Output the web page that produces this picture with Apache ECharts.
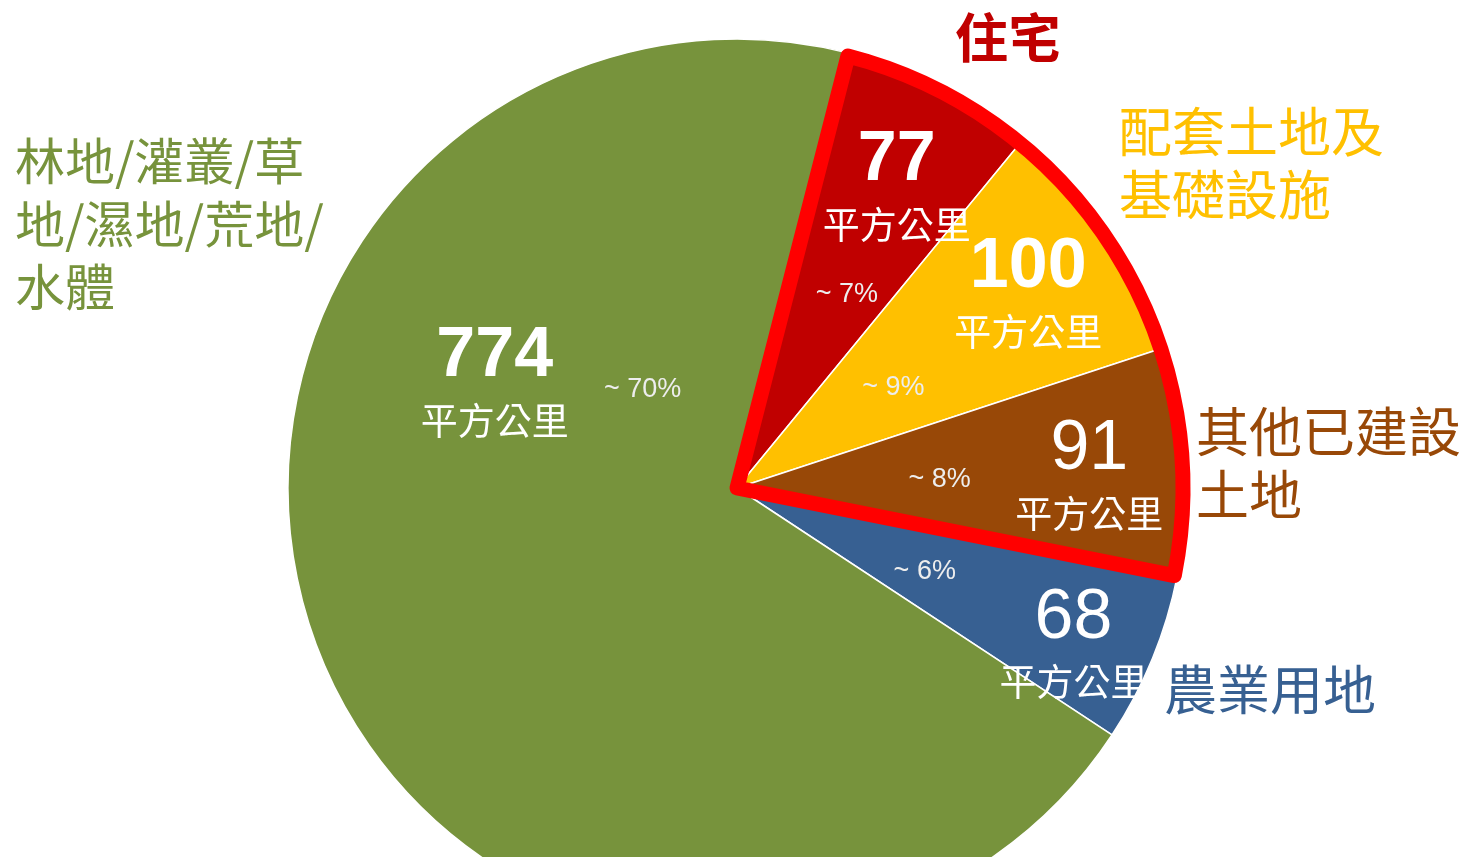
<!DOCTYPE html>
<html>
<head>
<meta charset="utf-8">
<script src="https://cdn.jsdelivr.net/npm/echarts@6/dist/echarts.min.js"></script>
<style>
  html, body { margin: 0; padding: 0; background: #fff; }
  #main { width: 1463px; height: 857px; }
</style>
</head>
<body>
<div id="main"></div>
<script>
// 土地用途 (平方公里)
const categories = ['住宅', '配套土地及\n基礎設施', '其他已建設\n土地', '農業用地', '林地/灌叢/草\n地/濕地/荒地/\n水體']
const areas = [77, 100, 91, 68, 774]
const unitText = '平方公里'
const highlightCount = 3 // 已建設用地 (紅框)

const sliceColors = ['#C00000', '#FFC000', '#984807', '#376092', '#77933C']
const nameColors = ['#C00000', '#FFC000', '#984807', '#376092', '#77933C']

const CJK = '"Noto Sans CJK TC", "Noto Sans CJK SC", sans-serif'
const NARROW = '"Liberation Sans Narrow", "Arial Narrow", "Liberation Sans", sans-serif'
const center = [737, 488]
const R = 449
const startAngle = 75.6

const chart = echarts.init(document.getElementById('main'))

const pieData = categories.map((name, i) => ({ name: name, value: areas[i] }))

const builtTotal = areas.slice(0, highlightCount).reduce((a, b) => a + b, 0)
const restTotal = areas.slice(highlightCount).reduce((a, b) => a + b, 0)

const transparentItem = { color: 'rgba(0,0,0,0)', borderWidth: 0 }

const option = {
  animation: false,
  series: [
    // 主圓餅
    {
      type: 'pie',
      center: center,
      radius: R,
      startAngle: startAngle,
      silent: true,
      data: pieData.map((d, i) => ({
        name: d.name,
        value: d.value,
        itemStyle: { color: sliceColors[i] }
      })),
      itemStyle: { borderColor: '#fff', borderWidth: 1.5 },
      label: { show: false },
      labelLine: { show: false }
    },
    // 紅框
    {
      type: 'pie',
      center: center,
      radius: R - 3,
      startAngle: startAngle,
      silent: true,
      z: 3,
      data: [
        {
          value: builtTotal,
          itemStyle: {
            color: 'rgba(0,0,0,0)',
            borderColor: '#FF0000',
            borderWidth: 15,
            borderJoin: 'round'
          }
        },
        { value: restTotal, itemStyle: transparentItem }
      ],
      label: { show: false },
      labelLine: { show: false }
    },
    // 數值標籤
    {
      type: 'pie',
      center: center,
      radius: [250, 450],
      startAngle: startAngle,
      silent: true,
      z: 4,
      data: pieData,
      itemStyle: transparentItem,
      label: {
        show: true,
        position: 'inside',
        color: '#fff',
        formatter: p => {
          const tag = (p.dataIndex === 2 || p.dataIndex === 3) ? 'r' : 'b'
          return '{' + tag + '|' + p.value + '}\n{u|' + unitText + '}'
        },
        rich: {
          b: { fontFamily: NARROW, fontWeight: 'bold', fontSize: 70, lineHeight: 70, color: '#fff' },
          r: { fontFamily: NARROW, fontWeight: 'normal', fontSize: 70, lineHeight: 70, color: '#fff' },
          u: { fontFamily: CJK, fontSize: 37, lineHeight: 58, color: '#fff' }
        }
      },
      labelLine: { show: false },
      labelLayout: p => {
        const nudge = [[0, 17], [0, 8], [0, 12], [10, 25], [87, -229]][p.dataIndex]
        return { dx: nudge[0], dy: nudge[1] }
      }
    },
    // 百分比標籤
    {
      type: 'pie',
      center: center,
      radius: [100, 300],
      startAngle: startAngle,
      silent: true,
      z: 4,
      data: pieData,
      itemStyle: transparentItem,
      label: {
        show: true,
        position: 'inside',
        fontFamily: '"Liberation Sans", Arial, sans-serif',
        fontSize: 27,
        color: '#EDEDED',
        formatter: p => '~ ' + Math.round(p.percent) + '%'
      },
      labelLine: { show: false },
      labelLayout: p => {
        const nudge = [[18, -12], [-11, 14], [0, 4], [0, 6], [95, -172]][p.dataIndex]
        return { dx: nudge[0], dy: nudge[1] }
      }
    },
    // 類別名稱
    {
      type: 'pie',
      center: center,
      radius: [540, 640],
      startAngle: startAngle,
      silent: true,
      z: 4,
      data: pieData.map((d, i) => ({
        name: d.name,
        value: d.value,
        label: {
          color: nameColors[i],
          fontWeight: i === 0 ? 'bold' : 'normal',
          fontSize: i === 4 ? 50 : 53
        }
      })),
      itemStyle: transparentItem,
      label: {
        show: true,
        position: 'inside',
        fontFamily: CJK,
        fontSize: 53,
        lineHeight: 63,
        align: 'left',
        formatter: '{b}'
      },
      labelLine: { show: false },
      labelLayout: p => {
        const spot = [[955, 38], [1119, 163], [1196, 463], [1164, 690], [15, 224]][p.dataIndex]
        return { x: spot[0], y: spot[1], align: 'left', verticalAlign: 'middle' }
      }
    }
  ]
}

chart.setOption(option)
</script>
</body>
</html>
